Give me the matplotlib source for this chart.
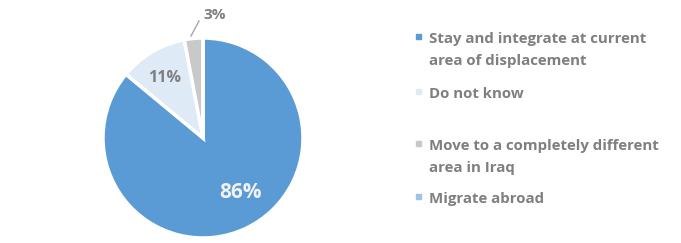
import matplotlib.pyplot as plt
import numpy as np

# data
labels = ["Stay and integrate at current\narea of displacement", "Do not know",
          "Move to a completely different\narea in Iraq", "Migrate abroad"]
values = [86, 11, 3, 0]
colors = ["#5B9BD5", "#DEEBF7", "#C9C9C9", "#9DC3E6"]
pct_text = ["86%", "11%", "3%", ""]

grey = "#7F7F7F"
plt.rcParams['font.family'] = ['Open Sans', 'DejaVu Sans']

fig = plt.figure(figsize=(6.81, 2.43), dpi=100)
ax = fig.add_axes([103/681, 5/243, 200/681, 200/243])

wedges, _ = ax.pie(values, colors=colors, startangle=90, counterclock=False,
                   wedgeprops=dict(edgecolor="white", linewidth=2.5))
ax.set_xlim(-1, 1)
ax.set_ylim(-1, 1)
ax.set_aspect('equal')

# slice labels
ax.text(0.38, -0.54, pct_text[0], color="#F2F2F2", fontsize=15, fontweight='bold',
        ha='center', va='center')
ax.text(-0.38, 0.60, pct_text[1], color=grey, fontsize=11.5, fontweight='bold',
        ha='center', va='center')
ax.text(0.12, 1.23, pct_text[2], color=grey, fontsize=11, fontweight='bold',
        ha='center', va='center', clip_on=False)
ax.plot([-0.12, -0.04], [1.02, 1.17], color="#A6A6A6", lw=1, clip_on=False)

# legend (manual), first-line baselines in pixels from top
baselines = [43, 98, 150, 203]
line_gap = 22
for lab, c, b in zip(labels, colors, baselines):
    fig.patches.append(plt.Rectangle((416/681, 1 - (b - 4)/243), 5/681, 5/243,
                                     transform=fig.transFigure, color=c))
    for k, line in enumerate(lab.split("\n")):
        fig.text(429/681, 1 - (b + k*line_gap)/243, line, color=grey, fontsize=10.8,
                 fontweight='bold', va='baseline', ha='left')

fig.savefig("out.png", dpi=100)
